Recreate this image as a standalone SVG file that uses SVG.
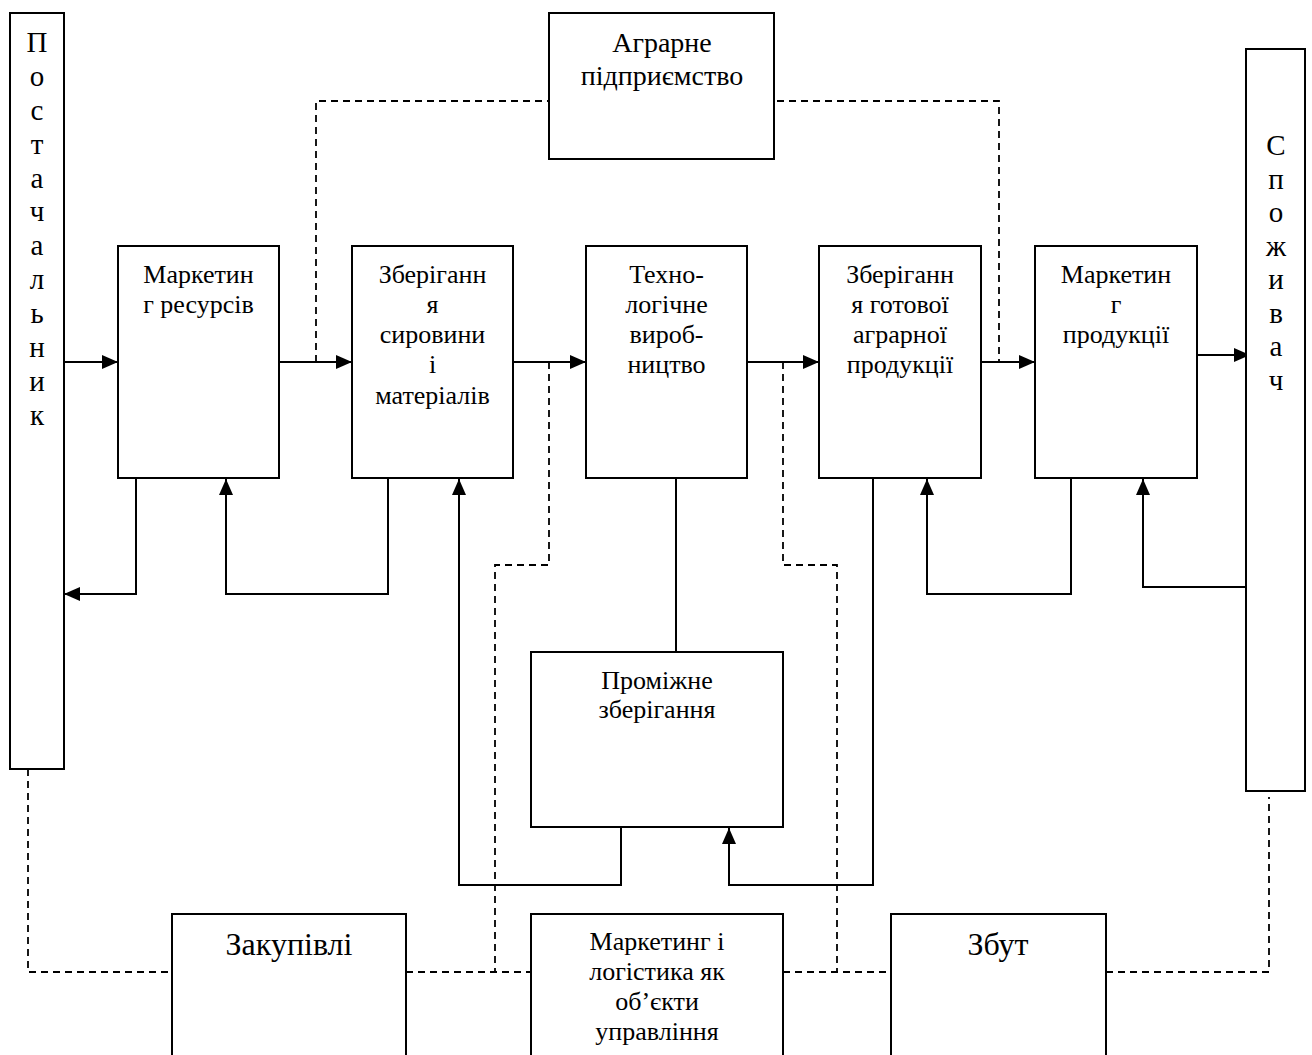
<svg xmlns="http://www.w3.org/2000/svg" width="1312" height="1055" viewBox="0 0 1312 1055">
<style>
.box{fill:#fff;stroke:#000;stroke-width:2}
.t{font-family:"Liberation Serif","Times New Roman",serif;font-size:26px;fill:#000;text-anchor:middle}
.tv{font-family:"Liberation Serif","Times New Roman",serif;font-size:29px;fill:#000;text-anchor:middle}
.tb{font-family:"Liberation Serif","Times New Roman",serif;font-size:32px;fill:#000;text-anchor:middle}
.c{fill:none;stroke:#000;stroke-width:2}
.d{fill:none;stroke:#000;stroke-width:1.8;stroke-dasharray:7,5}
</style>
<defs>
<marker id="ah" markerUnits="userSpaceOnUse" markerWidth="16" markerHeight="14" refX="16" refY="7" orient="auto">
<path d="M0,0 L16,7 L0,14 z" fill="#000"/>
</marker>
</defs>
<rect width="1312" height="1055" fill="#fff"/>
<g id="connectors">
<line class="c" x1="64" y1="362" x2="118" y2="362" marker-end="url(#ah)"/>
<line class="c" x1="279" y1="362" x2="352" y2="362" marker-end="url(#ah)"/>
<line class="c" x1="513" y1="362" x2="586" y2="362" marker-end="url(#ah)"/>
<line class="c" x1="747" y1="362" x2="819" y2="362" marker-end="url(#ah)"/>
<line class="c" x1="981" y1="362" x2="1035" y2="362" marker-end="url(#ah)"/>
<line class="c" x1="1197" y1="355" x2="1250" y2="355" marker-end="url(#ah)"/>
<polyline class="c" points="136,478 136,594 64,594" marker-end="url(#ah)"/>
<polyline class="c" points="388,478 388,594 226,594 226,479" marker-end="url(#ah)"/>
<line class="c" x1="676" y1="478" x2="676" y2="652"/>
<polyline class="c" points="621,827 621,885 459,885 459,479" marker-end="url(#ah)"/>
<polyline class="c" points="873,478 873,885 729,885 729,828" marker-end="url(#ah)"/>
<polyline class="c" points="1071,478 1071,594 927,594 927,479" marker-end="url(#ah)"/>
<polyline class="c" points="1251,587 1143,587 1143,479" marker-end="url(#ah)"/>
<polyline class="d" points="316,362 316,101 549,101"/>
<polyline class="d" points="765,101 999,101 999,362"/>
<polyline class="d" points="549,362 549,565 495,565 495,972"/>
<polyline class="d" points="783,362 783,565 837,565 837,972"/>
<polyline class="d" points="28,769 28,972 172,972"/>
<line class="d" x1="406" y1="972" x2="531" y2="972"/>
<line class="d" x1="783" y1="972" x2="891" y2="972"/>
<polyline class="d" points="1106,972 1269,972 1269,797"/>
</g>
<g id="postachalnyk">
<rect class="box" x="10" y="13" width="54" height="756"/>
<text class="tv" x="37" y="52">П</text>
<text class="tv" x="37" y="86">о</text>
<text class="tv" x="37" y="120">с</text>
<text class="tv" x="37" y="154">т</text>
<text class="tv" x="37" y="188">а</text>
<text class="tv" x="37" y="221">ч</text>
<text class="tv" x="37" y="255">а</text>
<text class="tv" x="37" y="289">л</text>
<text class="tv" x="37" y="323">ь</text>
<text class="tv" x="37" y="357">н</text>
<text class="tv" x="37" y="391">и</text>
<text class="tv" x="37" y="425">к</text>
</g>
<g id="agrarne">
<rect class="box" x="549" y="13" width="225" height="146"/>
<text class="t" x="662" y="52" style="font-size:28px">Аграрне</text>
<text class="t" x="662" y="85" style="font-size:28px">підприємство</text>
</g>
<g id="marketing-resursiv">
<rect class="box" x="118" y="246" width="161" height="232"/>
<text class="t" x="198.5" y="283">Маркетин</text>
<text class="t" x="198.5" y="313">г ресурсів</text>
</g>
<g id="zberigannia-syrovyny">
<rect class="box" x="352" y="246" width="161" height="232"/>
<text class="t" x="432.5" y="283">Зберіганн</text>
<text class="t" x="432.5" y="313">я</text>
<text class="t" x="432.5" y="343">сировини</text>
<text class="t" x="432.5" y="373">і</text>
<text class="t" x="432.5" y="404">матеріалів</text>
</g>
<g id="tekhnolohichne">
<rect class="box" x="586" y="246" width="161" height="232"/>
<text class="t" x="666.5" y="283">Техно-</text>
<text class="t" x="666.5" y="313">логічне</text>
<text class="t" x="666.5" y="343">вироб-</text>
<text class="t" x="666.5" y="373">ництво</text>
</g>
<g id="zberigannia-gotovoi">
<rect class="box" x="819" y="246" width="162" height="232"/>
<text class="t" x="900" y="283">Зберіганн</text>
<text class="t" x="900" y="313">я готової</text>
<text class="t" x="900" y="343">аграрної</text>
<text class="t" x="900" y="373">продукції</text>
</g>
<g id="marketing-produktsii">
<rect class="box" x="1035" y="246" width="162" height="232"/>
<text class="t" x="1116" y="283">Маркетин</text>
<text class="t" x="1116" y="313">г</text>
<text class="t" x="1116" y="343">продукції</text>
</g>
<g id="spozhyvach">
<rect class="box" x="1246" y="49" width="59" height="742"/>
<text class="tv" x="1276" y="155">С</text>
<text class="tv" x="1276" y="188.5">п</text>
<text class="tv" x="1276" y="222">о</text>
<text class="tv" x="1276" y="255.5">ж</text>
<text class="tv" x="1276" y="289">и</text>
<text class="tv" x="1276" y="322.5">в</text>
<text class="tv" x="1276" y="356">а</text>
<text class="tv" x="1276" y="389.5">ч</text>
</g>
<g id="promizhne">
<rect class="box" x="531" y="652" width="252" height="175"/>
<text class="t" x="657" y="689">Проміжне</text>
<text class="t" x="657" y="718">зберігання</text>
</g>
<g id="zakupivli">
<rect class="box" x="172" y="914" width="234" height="160"/>
<text class="tb" x="289" y="955">Закупівлі</text>
</g>
<g id="marketing-logistyka">
<rect class="box" x="531" y="914" width="252" height="160"/>
<text class="t" x="657" y="950">Маркетинг і</text>
<text class="t" x="657" y="980">логістика як</text>
<text class="t" x="657" y="1010">об’єкти</text>
<text class="t" x="657" y="1040">управління</text>
</g>
<g id="zbut">
<rect class="box" x="891" y="914" width="215" height="160"/>
<text class="tb" x="998" y="955">Збут</text>
</g>
</svg>
